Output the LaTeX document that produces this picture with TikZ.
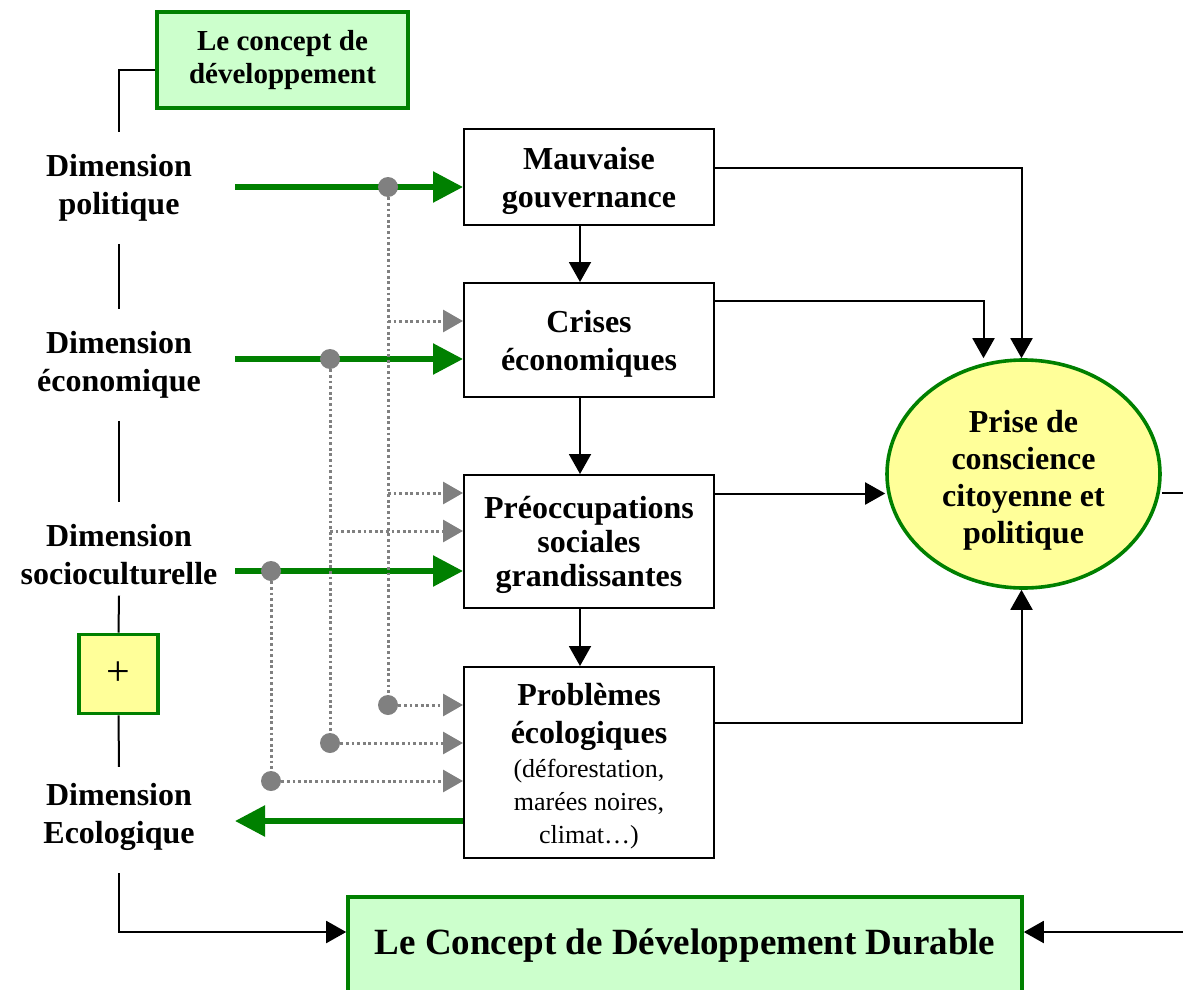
\documentclass[tikz,border=0pt]{standalone}
\usepackage{fontspec}
\setmainfont{Liberation Serif}
\usetikzlibrary{arrows.meta,shapes.geometric}
\definecolor{dkgreen}{RGB}{0,128,0}
\definecolor{ltgreen}{RGB}{204,255,204}
\definecolor{ltyellow}{RGB}{255,255,153}
\definecolor{dotgray}{RGB}{128,128,128}
\newcommand{\notefont}{\mdseries\fontsize{13}{16.5}\selectfont}
\begin{document}
\begin{tikzpicture}[x=0.5pt,y=-0.5pt,>={Triangle[width=11pt,length=10pt]},
    every node/.style={font=\fontsize{16}{19}\selectfont\bfseries, align=center},
    box/.style={draw, line width=1pt, fill=white, minimum width=125pt, inner sep=0pt},
    greenbox/.style={draw=dkgreen, line width=1.8pt, fill=ltgreen, inner sep=0pt},
    yellowshape/.style={draw=dkgreen, line width=1.8pt, fill=ltyellow, inner sep=0pt},
    dimlabel/.style={inner xsep=0pt, inner ysep=11pt},
    bar/.style={line width=1pt},
    link/.style={line width=1pt, ->},
    greenarrow/.style={dkgreen, line width=2.8pt, -{Triangle[width=15pt,length=15pt]}},
    dotline/.style={dotgray, line width=1.5pt, dash pattern=on 1.4pt off 1.4pt},
    dotarrow/.style={dotline, -{Triangle[width=11pt,length=10pt]}},
    junction/.style={circle, fill=dotgray, minimum size=10pt, inner sep=0pt}]
    \useasboundingbox (0,0) rectangle (1183,990);

    % left column
    \node[greenbox, minimum width=125.5pt, minimum height=48pt,
        font=\fontsize{14.5}{16.5}\selectfont\bfseries] (topbox) at (282.5,60) {Le concept de\\d\'eveloppement};
    \node[dimlabel] (polit) at (119,188) {Dimension\\politique};
    \node[dimlabel] (econ) at (119,365) {Dimension\\\'economique};
    \node[dimlabel] (socio) at (119,555) {Dimension\\socioculturelle};
    \node[yellowshape, minimum size=39.5pt, font=\fontsize{21}{24}\selectfont\mdseries] (plus) at (118.5,674) {+};
    \node[dimlabel] (ecolo) at (119,817) {Dimension\\Ecologique};

    % middle column
    \node[box, minimum height=48pt] (mauv) at (589,177) {\rule{0pt}{15pt}Mauvaise\\gouvernance};
    \node[box, minimum height=57pt] (crises) at (589,340) {\rule{0pt}{15pt}Crises\\\'economiques};
    \node[box, minimum height=66.5pt] (preoc) at (589,541.5) {\rule{0pt}{15pt}Pr\'eoccupations\\[-2pt]sociales\\[-2pt]grandissantes};
    \node[box, minimum height=95.5pt] (probl) at (589,762.5) {\rule{0pt}{15pt}Probl\`emes\\\'ecologiques\\[-2pt]\notefont(d\'eforestation,\\[-2.5pt]\notefont mar\'ees noires,\\[-2.5pt]\notefont climat…)};

    \node[ellipse, yellowshape, minimum width=136.5pt, minimum height=114pt] (prise) at (1023.5,474) {\rule{0pt}{17pt}Prise de\\[-0.5pt]conscience\\[-0.5pt]citoyenne et\\[-0.5pt]politique};
    \node[greenbox, minimum width=337pt, minimum height=49pt, font=\fontsize{18.5}{22}\selectfont\bfseries] (durable) at (685,946) {Le Concept de D\'eveloppement Durable};

    \coordinate (gpol) at (235,187);
    \coordinate (geco) at (235,359);
    \coordinate (gsoc) at (235,571);
    \coordinate (gecl) at (235,821);
    \coordinate (bcri) at (388,321);
    \coordinate (bpre1) at (388,493);
    \coordinate (bpre2) at (330,531);
    \coordinate (outer) at (1200,493);

    \draw[bar] ([yshift=-5pt]topbox.west) -| (polit.north);
    \draw[bar] (polit.south) -- (econ.north);
    \draw[bar] (econ.south) -- (socio.north);
    \draw[bar] ([yshift=6pt]socio.south) -- (plus.north);
    \draw[bar] (plus.south) -- ([yshift=-3pt]ecolo.north);
    \draw[link] (ecolo.south) |- ([yshift=7pt]durable.west);

    \draw[greenarrow] (gpol) -- (gpol -| mauv.west);
    \draw[greenarrow] (geco) -- (geco -| crises.west);
    \draw[greenarrow] (gsoc) -- (gsoc -| preoc.west);
    \draw[greenarrow] (gecl -| probl.west) -- (gecl);

    \node[junction] (jpol) at (388,187) {};
    \node[junction] (jeco) at (330,359) {};
    \node[junction] (jsoc) at (271,571) {};
    \node[junction] (jpol2) at (388,705) {};
    \node[junction] (jeco2) at (330,743) {};
    \node[junction] (jsoc2) at (271,781) {};

    \draw[dotline] (jpol) -- (jpol2);
    \draw[dotline] (jeco) -- (jeco2);
    \draw[dotline] (jsoc) -- (jsoc2);
    \draw[dotarrow] (bcri) -- (bcri -| crises.west);
    \draw[dotarrow] (bpre1) -- (bpre1 -| preoc.west);
    \draw[dotarrow] (bpre2) -- (bpre2 -| preoc.west);
    \draw[dotarrow] (jpol2) -- (jpol2 -| probl.west);
    \draw[dotarrow] (jeco2) -- (jeco2 -| probl.west);
    \draw[dotarrow] (jsoc2) -- (jsoc2 -| probl.west);

    % links to the ellipse
    \draw[link] ([xshift=-4.5pt]mauv.south) -- ([xshift=-4.5pt]crises.north);
    \draw[link] ([xshift=-4.5pt]crises.south) -- ([xshift=-4.5pt]preoc.north);
    \draw[link] ([xshift=-4.5pt]preoc.south) -- ([xshift=-4.5pt]probl.north);
    \draw[link] ([yshift=4.5pt]mauv.east) -| ([xshift=-1pt]prise.north);
    \draw[link] ([yshift=19.5pt]crises.east) -| ([xshift=-20pt]prise.north);
    \draw[link] ([yshift=24pt]preoc.east) -- ([yshift=24pt]preoc.east -| prise.west);
    \draw[link] ([yshift=20pt]probl.east) -| ([xshift=-1pt]prise.south);
    \draw[link] ([yshift=-9.5pt]prise.east) -- (outer) |- ([yshift=7pt]durable.east);
\end{tikzpicture}
\end{document}
